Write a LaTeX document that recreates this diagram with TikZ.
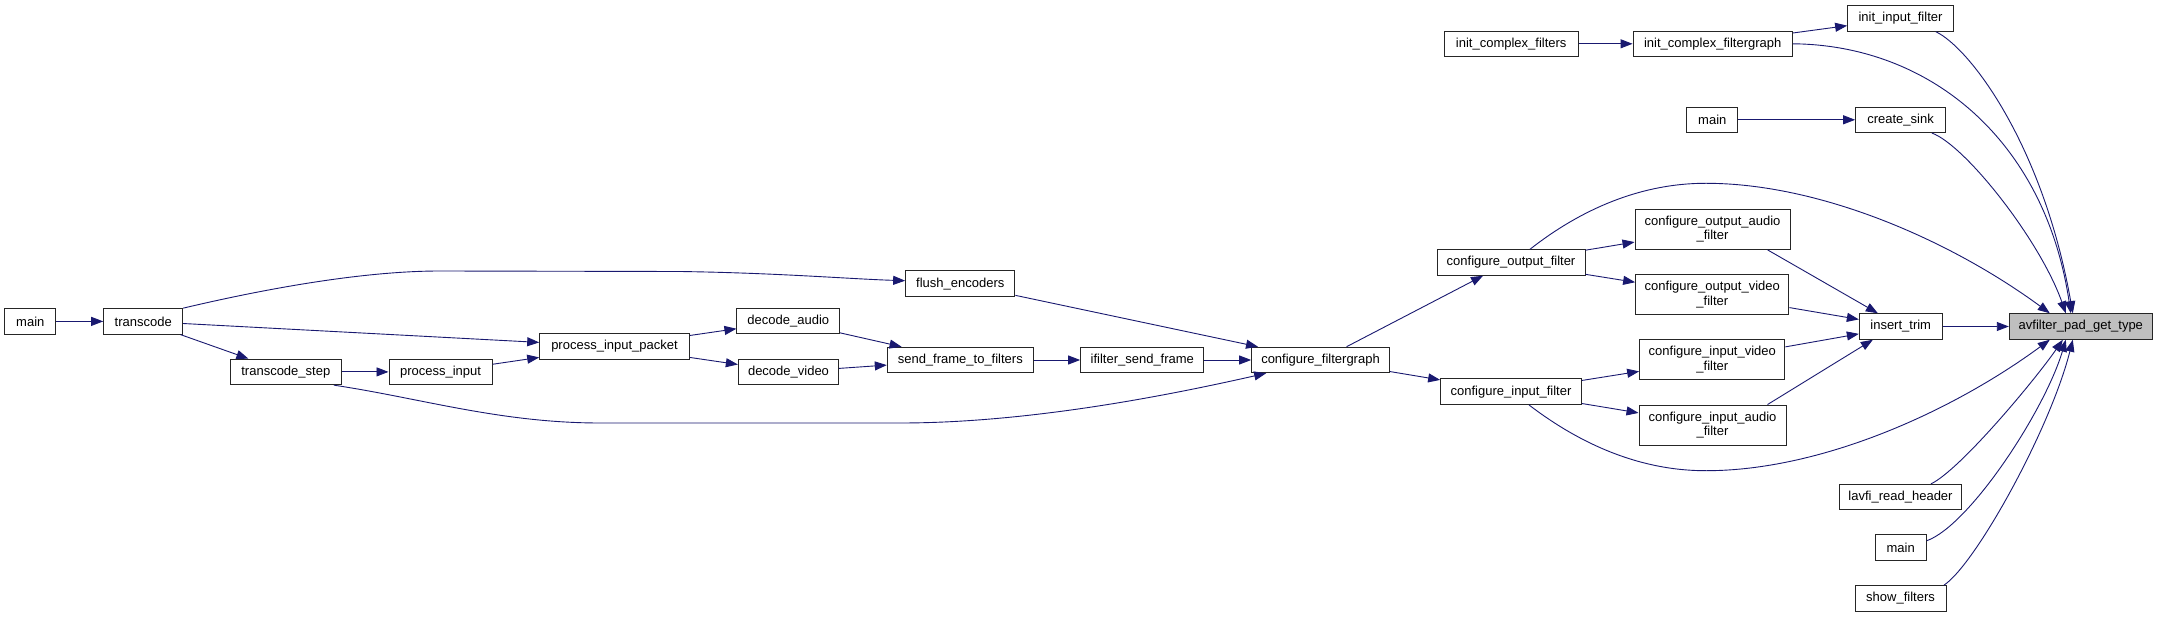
\documentclass[tikz,border=0pt]{standalone}
\usepackage{fontspec}
\setmainfont{Liberation Sans}
\usepackage{tikz}
\usetikzlibrary{arrows.meta,calc}
\definecolor{EdgeBlue}{HTML}{191970}
\definecolor{NodeGray}{HTML}{BFBFBF}

\begin{document}
\begin{tikzpicture}[x=1pt, y=-1pt, font=\fontsize{13}{14.7}\selectfont, >={Triangle[length=12pt,width=9pt]}]
\tikzset{box/.style={draw=black!85, line width=1pt, inner sep=0pt, minimum height=25.5pt, align=center, fill=white}, tallbox/.style={box, minimum height=40.3pt}, graybox/.style={box, fill=NodeGray}, call/.style={->, draw=EdgeBlue, line width=0.9pt}}
\useasboundingbox[fill=white] (0,0) rectangle (2157,617);
% left chain
\node[box, minimum width=51.3pt] (m1) at (30.3,321.4) {main};
\node[box, minimum width=79pt] (tc) at (143.2,321.4) {transcode};
\node[box, minimum width=111pt] (ts) at (285.8,371.9) {transcode\_step};
\node[box, minimum width=103pt] (pi) at (440.5,371.9) {process\_input};
\node[box, minimum width=149.6pt] (pp) at (614.5,346.4) {process\_input\_packet};
\node[box, minimum width=102.7pt] (da) at (788.3,321.2) {decode\_audio};
\node[box, minimum width=100.3pt] (dv) at (788.5,371.9) {decode\_video};
\node[box, minimum width=109.3pt] (fe) at (960.3,283.7) {flush\_encoders};
\node[box, minimum width=146pt] (sf) at (960.3,360) {send\_frame\_to\_filters};
\node[box, minimum width=123.3pt] (is) at (1142.3,360) {ifilter\_send\_frame};
\node[box, minimum width=137.7pt] (cg) at (1320.5,360) {configure\_filtergraph};
% filter setup
\node[box, minimum width=148pt] (co) at (1511,262.5) {configure\_output\_filter};
\node[box, minimum width=140.7pt] (ci) at (1511,391.7) {configure\_input\_filter};
\node[tallbox, minimum width=155pt] (coa) at (1712.5,229.2) {configure\_output\_audio\\\_filter};
\node[tallbox, minimum width=153.3pt] (cov) at (1712.3,294.5) {configure\_output\_video\\\_filter};
\node[tallbox, minimum width=145.3pt] (civ) at (1712.3,359.8) {configure\_input\_video\\\_filter};
\node[tallbox, minimum width=147pt] (cia) at (1712.5,425.2) {configure\_input\_audio\\\_filter};
\node[box, minimum width=82.7pt] (it) at (1900.7,326.5) {insert\_trim};
\node[graybox, minimum width=143pt] (ap) at (2080.8,326.5) {avfilter\_pad\_get\_type};
% other callers
\node[box, minimum width=133.7pt] (icf) at (1511.2,43.8) {init\_complex\_filters};
\node[box, minimum width=159.3pt] (icg) at (1712.7,43.8) {init\_complex\_filtergraph};
\node[box, minimum width=105.7pt] (ii) at (1900.5,18.5) {init\_input\_filter};
\node[box, minimum width=51.3pt] (m2) at (1712.3,119.8) {main};
\node[box, minimum width=89.7pt] (cs) at (1900.5,119.8) {create\_sink};
\node[box, minimum width=121.7pt] (lr) at (1900.5,497.2) {lavfi\_read\_header};
\node[box, minimum width=51.3pt] (m3) at (1900.7,547.7) {main};
\node[box, minimum width=91pt] (sh) at (1900.5,598.5) {show\_filters};
% straight calls
\foreach \a/\b in {m1/tc,tc/ts,tc/pp,ts/pi,pi/pp,pp/da,pp/dv,da/sf,dv/sf,sf/is,is/cg,fe/cg,cg/ci,co/coa,co/cov,ci/civ,ci/cia,cov/it,civ/it,it/ap,icf/icg,icg/ii,m2/cs} \draw[call] (\a) -- (\b);
\draw[call] ($(cg.north)+(26,0)$) -- ($(co.south)+(-28,0)$);
\draw[call] ($(coa.south east)+(-23,0)$) -- ($(it.north west)+(19,0)$);
\draw[call] ($(cia.north east)+(-19,0)$) -- ($(it.south west)+(14,0)$);
% curved calls
\draw[call] (tc.north east) .. controls (260,290) and (360,271) .. (440,271) -- (680,271.5) .. controls (780,273) and (850,279) .. ($(fe.west)+(0,-3)$);
\draw[call] ($(ts.south east)+(-8,0)$) .. controls (420,398) and (500,423) .. (600,423) -- (900,423) .. controls (1030,423) and (1170,395) .. ($(cg.south west)+(15,0)$);
\draw[call] ($(co.north)+(19,0)$) .. controls (1580,210) and (1640,183) .. (1706.7,183.3) .. controls (1820,183.5) and (1950,240) .. ($(ap.north west)+(41,0)$);
\draw[call] ($(ci.south)+(18,0)$) .. controls (1580,444) and (1640,471) .. (1706.7,470.7) .. controls (1820,470.5) and (1950,413) .. ($(ap.south west)+(41,0)$);
\draw[call] (icg.east) .. controls (1930,45) and (2045,140) .. ($(ap.north west)+(62,0)$);
\draw[call] ($(ii.south east)+(-18,0)$) .. controls (1970,48) and (2043,145) .. ($(ap.north west)+(64,0)$);
\draw[call] ($(cs.south east)+(-14,0)$) .. controls (1965,145) and (2040,240) .. ($(ap.north west)+(57,0)$);
\draw[call] ($(lr.north east)+(-31,0)$) .. controls (1960,470) and (2035,380) .. ($(ap.south west)+(54,0)$);
\draw[call] ($(m3.east)+(0,-7)$) .. controls (1970,525) and (2045,410) .. ($(ap.south west)+(57,0)$);
\draw[call] ($(sh.north east)+(-2.7,0)$) .. controls (1975,565) and (2050,430) .. ($(ap.south west)+(64,0)$);
\end{tikzpicture}
\end{document}
